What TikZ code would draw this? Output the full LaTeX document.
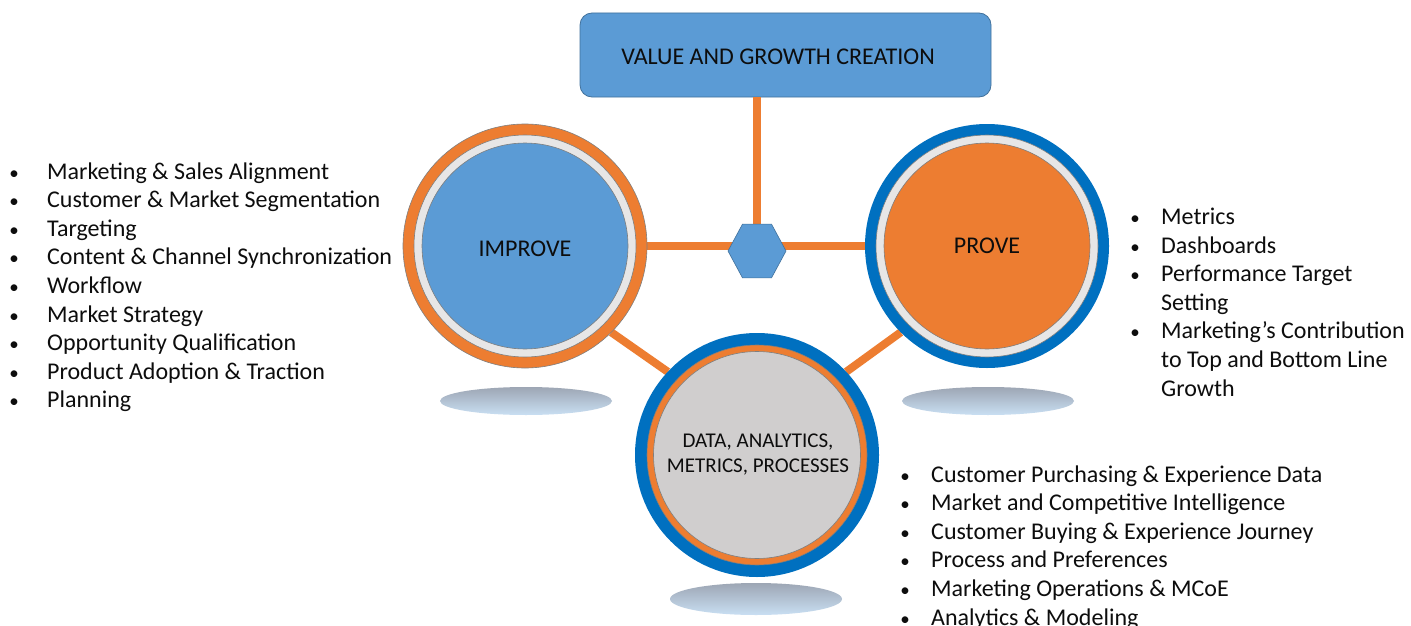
\documentclass[tikz,border=0pt]{standalone}
\usepackage{fontspec}
\setmainfont{Carlito}
\usetikzlibrary{shapes.geometric}
\definecolor{boxblue}{HTML}{5B9BD5}
\definecolor{boxedge}{HTML}{41719C}
\definecolor{orng}{HTML}{ED7D31}
\definecolor{ringblue}{HTML}{0070C0}
\definecolor{ltgray}{HTML}{E7E6E6}
\definecolor{dgray}{HTML}{D0CECE}
\definecolor{edgegray}{HTML}{7F7F7F}
\definecolor{shadtop}{HTML}{9DA6B4}
\definecolor{shadbot}{HTML}{C9DFF3}
\definecolor{txt}{HTML}{0D0D0D}
\tikzset{
  disc/.style={circle,inner sep=0pt,outer sep=0pt,draw=edgegray,line width=0.6pt,minimum size=#1},
  link/.style={draw=orng,line width=8pt},
  listtext/.style={anchor=base west,inner sep=0pt,text=txt,font=\fontsize{24}{28}\selectfont},
  bullettext/.style={anchor=base,inner sep=0pt,text=txt,font=\fontsize{19}{28}\selectfont},
  shadowell/.style={top color=shadtop,bottom color=shadbot,draw=none}
}
\begin{document}
\begin{tikzpicture}[x=1pt,y=-1pt]
\useasboundingbox (0,0) rectangle (1411,626);
\fill[white] (0,0) rectangle (1411,626);

% shadows
\shade[shadowell] (526,401) ellipse [x radius=86, y radius=14];
\shade[shadowell] (988,401) ellipse [x radius=86, y radius=14];
\shade[shadowell] (756,599) ellipse [x radius=86, y radius=16];

% top box
\node (top) [draw=boxedge,fill=boxblue,line width=0.8pt,rounded corners=12pt,minimum width=411pt,minimum height=84pt,inner sep=0pt] at (785.5,55) {};
\node (toptext) [text=txt,font=\fontsize{24}{28}\selectfont,inner sep=0pt,anchor=base] at (778,64) {VALUE AND GROWTH CREATION};

% circle placeholders for anchors
\path (525,246) node (imp) [circle,minimum size=244pt,inner sep=0pt,outer sep=0pt] {};
\path (987,246) node (prove) [circle,minimum size=244pt,inner sep=0pt,outer sep=0pt] {};
\path (757,455) node (data) [circle,minimum size=244pt,inner sep=0pt,outer sep=0pt] {};
\path (757,251) node (hex) [regular polygon,regular polygon sides=6,minimum size=58pt,inner sep=0pt,outer sep=0pt] {};

% connectors (behind circles)
\draw[link] (hex.center) -- (hex.center |- top.south);
\draw[link] (imp.center) -- (prove.center);
\draw[link] (imp.-45) -- (data.137);
\draw[link] (prove.225) -- (data.43);

% hexagon on top of the lines
\node (hexshape) [regular polygon,regular polygon sides=6,minimum size=58pt,inner sep=0pt,draw=boxedge,fill=boxblue,line width=0.6pt,yscale=1.07] at (hex.center) {};

% IMPROVE circle
\node (impring) [disc=244pt,fill=orng] at (imp.center) {};
\node (impgap) [disc=222pt,fill=ltgray] at (imp.center) {};
\node (impin) [disc=206pt,fill=boxblue] at (imp.center) {};
\node (imptext) [text=txt,font=\fontsize{24}{28}\selectfont,anchor=base,inner sep=0pt] at (525,256) {IMPROVE};

% PROVE circle
\node (provering) [disc=244pt,fill=ringblue,draw=none] at (prove.center) {};
\node (provegap) [disc=222pt,fill=ltgray] at (prove.center) {};
\node (provein) [disc=206pt,fill=orng] at (prove.center) {};
\node (provetext) [text=txt,font=\fontsize{24}{28}\selectfont,anchor=base,inner sep=0pt] at (987,253) {PROVE};

% DATA circle
\node (dataring) [disc=244pt,fill=ringblue,draw=none] at (data.center) {};
\node (datagap) [disc=220pt,fill=orng] at (data.center) {};
\node (datain) [disc=207pt,fill=dgray] at (data.center) {};
\node (datatext) [text=txt,font=\fontsize{21}{25}\selectfont,align=center] at (758,455) {DATA, ANALYTICS,\\METRICS, PROCESSES};

% left list
\foreach \t [count=\i] in {Marketing \& Sales Alignment,Customer \& Market Segmentation,Targeting,Content \& Channel Synchronization,Workflow,Market Strategy,Opportunity Qualification,Product Adoption \& Traction,Planning}{
  \node (lb\i) [bullettext] at (14,{179+28.6*(\i-1)}) {•};
  \node (lt\i) [listtext] at (47,{179+28.6*(\i-1)}) {\t};
}

% right list
\node (rb1) [bullettext] at (1135,224) {•};
\node (rt1) [listtext] at (1161,224) {Metrics};
\node (rb2) [bullettext] at (1135,253) {•};
\node (rt2) [listtext] at (1161,253) {Dashboards};
\node (rb3) [bullettext] at (1135,281) {•};
\node (rt3) [listtext] at (1161,281) {Performance Target};
\node (rt4) [listtext] at (1161,310) {Setting};
\node (rb5) [bullettext] at (1135,338) {•};
\node (rt5) [listtext] at (1161,338) {Marketing’s Contribution};
\node (rt6) [listtext] at (1161,367) {to Top and Bottom Line};
\node (rt7) [listtext] at (1161,396) {Growth};

% bottom list
\foreach \t [count=\i] in {Customer Purchasing \& Experience Data,Market and Competitive Intelligence,Customer Buying \& Experience Journey,Process and Preferences,Marketing Operations \& MCoE,Analytics \& Modeling}{
  \node (bb\i) [bullettext] at (905,{482+28.6*(\i-1)}) {•};
  \node (bt\i) [listtext] at (931,{482+28.6*(\i-1)}) {\t};
}
\end{tikzpicture}
\end{document}
